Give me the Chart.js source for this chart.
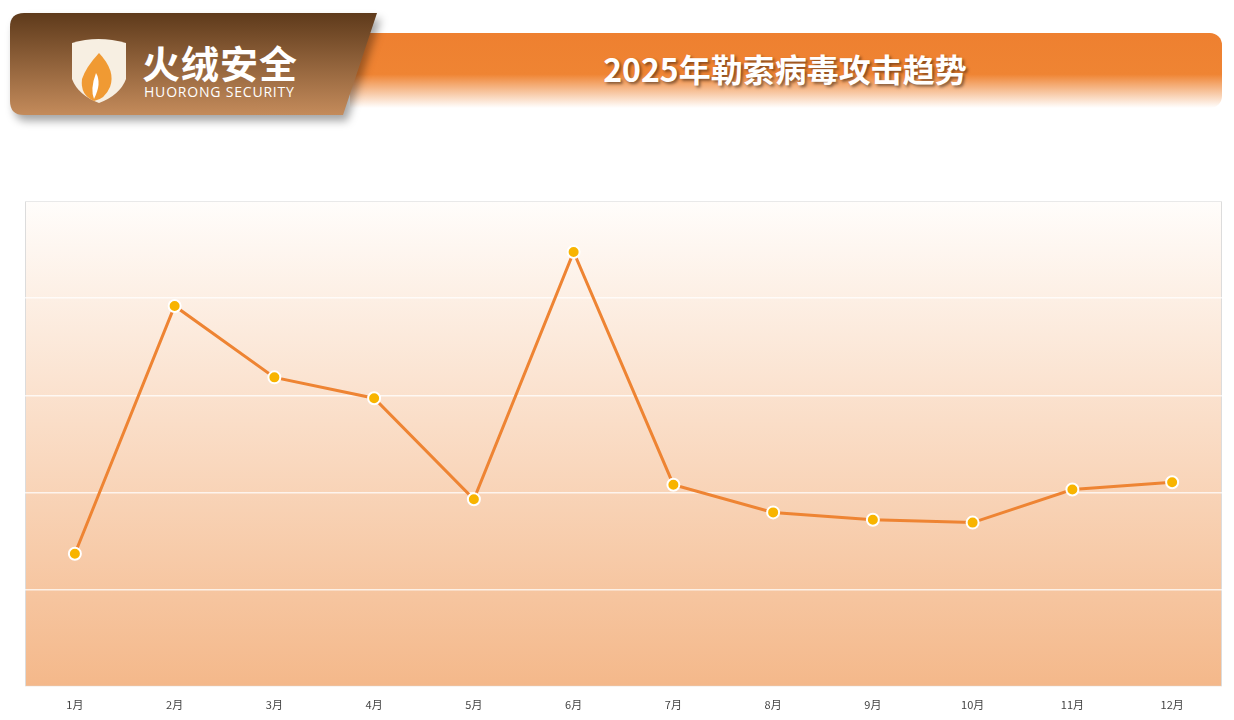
<!DOCTYPE html>
<html><head><meta charset="utf-8">
<script src="https://cdn.jsdelivr.net/npm/chart.js@4"></script>
<style>
body{margin:0;width:1234px;height:720px;background:#fff;overflow:hidden;font-family:"Noto Sans CJK SC","Noto Sans",sans-serif;position:relative}
#bar{position:absolute;left:350px;top:33px;width:872px;height:75px;border-radius:0 12px 12px 0;background:linear-gradient(#ee8030 0%,#ef8433 55%,#fff 100%)}
#title{position:absolute;left:350px;top:33px;width:870px;height:70px;line-height:70px;text-align:center;color:#fff;font-size:32px;font-weight:bold;text-shadow:2px 2px 3px rgba(0,0,0,.45);z-index:3}
#logo{position:absolute;left:10px;top:13px;width:370px;height:102px;z-index:2;filter:drop-shadow(4px 6px 4px rgba(0,0,0,.35))}
#cn{position:absolute;left:142px;top:34px;color:#fff;font-size:38px;font-weight:bold;z-index:4;letter-spacing:1px}
#en{position:absolute;left:144px;top:82px;color:#fff;font-size:14px;z-index:4;font-family:"Open Sans";letter-spacing:.8px}
#wrap{position:absolute;left:0;top:190px;width:1234px;height:530px}
</style></head><body>
<svg id="logo" viewBox="0 0 370 102"><defs><linearGradient id="g" x1="0" y1="0" x2="0" y2="1"><stop offset="0" stop-color="#5e3a1b"/><stop offset="1" stop-color="#c48b5b"/></linearGradient></defs>
<path d="M14 0 H367 L333 102 H14 Q0 102 0 88 V14 Q0 0 14 0Z" fill="url(#g)"/>
<path d="M62 30 Q88 22 116 30 V66 Q110 82 89 90 Q68 82 62 66Z" fill="#f7efe2"/>
<path d="M89 40 Q106 58 100 74 Q95 86 84 88 Q70 82 72 66 Q76 54 89 40Z" fill="#f09a33"/>
<path d="M86 60 Q92 70 84 86 Q80 76 86 60Z" fill="#fff"/></svg>
<div id="cn">火绒安全</div><div id="en">HUORONG SECURITY</div>
<div id="bar"></div><div id="title">2025年勒索病毒攻击趋势</div>
<div id="wrap"><canvas id="c"></canvas></div>
<script>
const months=["1月","2月","3月","4月","5月","6月","7月","8月","9月","10月","11月","12月"];
const values=[27.4,78.4,63.7,59.4,38.6,89.5,41.6,35.9,34.4,33.8,40.6,42.1];
const bg={id:'bg',beforeDraw(ch){const a=ch.chartArea,x=ch.ctx;const g=x.createLinearGradient(0,a.top,0,a.bottom);g.addColorStop(0,'#fffdfb');g.addColorStop(1,'#f4b88a');x.save();x.fillStyle=g;x.fillRect(a.left,a.top,a.right-a.left,a.bottom-a.top);x.strokeStyle='#dcdcdc';x.lineWidth=1;x.strokeRect(a.left+.5,a.top+.5,a.right-a.left-1,a.bottom-a.top-1);x.restore();}};
new Chart(document.getElementById('c'),{type:'line',data:{labels:months,datasets:[{data:values,borderColor:'#ee8433',borderWidth:3,pointBackgroundColor:'#f8b400',pointBorderColor:'#fff',pointBorderWidth:2,pointRadius:6,tension:0}]},
options:{responsive:true,maintainAspectRatio:false,animation:false,layout:{padding:{left:25,right:12,top:11,bottom:6}},plugins:{legend:{display:false},tooltip:{enabled:false}},
scales:{x:{offset:true,grid:{display:false},border:{display:false},ticks:{color:'#444',font:{size:11,family:'Noto Sans CJK SC'}}},
y:{min:0,max:100,ticks:{display:false,stepSize:20},afterFit(s){s.width=0},grid:{color:'rgba(255,255,255,0.75)',lineWidth:1.5,drawTicks:false},border:{display:false}}}},plugins:[bg]});
</script></body></html>
